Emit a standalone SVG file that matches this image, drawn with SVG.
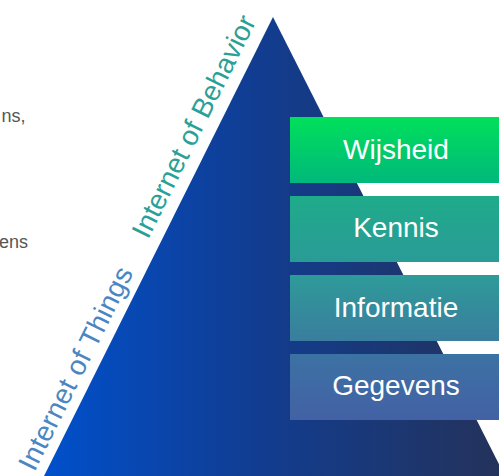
<svg xmlns="http://www.w3.org/2000/svg" width="499" height="476" viewBox="0 0 499 476">
<defs>
<linearGradient id="pyr" gradientUnits="userSpaceOnUse" x1="44" y1="0" x2="504" y2="0">
<stop offset="0" stop-color="#0050cc"/>
<stop offset="0.45" stop-color="#113d92"/>
<stop offset="1" stop-color="#24325a"/>
</linearGradient>
<linearGradient id="g1" x1="0" y1="0" x2="0" y2="1"><stop offset="0" stop-color="#00e05a"/><stop offset="1" stop-color="#00b87c"/></linearGradient>
<linearGradient id="g2" x1="0" y1="0" x2="0" y2="1"><stop offset="0" stop-color="#1fab8a"/><stop offset="1" stop-color="#2a9b97"/></linearGradient>
<linearGradient id="g3" x1="0" y1="0" x2="0" y2="1"><stop offset="0" stop-color="#2e9b99"/><stop offset="1" stop-color="#3a7d9e"/></linearGradient>
<linearGradient id="g4" x1="0" y1="0" x2="0" y2="1"><stop offset="0" stop-color="#3c72a3"/><stop offset="1" stop-color="#4361a5"/></linearGradient>
</defs>
<style>
.lbl{font-family:"Liberation Sans",Arial,sans-serif;font-size:28px;fill:#ffffff;text-anchor:middle}
.side{font-family:"Liberation Sans",Arial,sans-serif;font-size:28px}
.gray{font-family:"Liberation Sans",Arial,sans-serif;font-size:18px;fill:#555555;text-anchor:end}
</style>
<g id="left-text">
<text class="gray" x="25.5" y="121.7">ns,</text>
<text class="gray" x="28" y="248.3">ens</text>
</g>
<g id="pyramid">
<polygon points="273,17 44,476 505,476" fill="url(#pyr)"/>
</g>
<g id="iot">
<text class="side" fill="#4a86c2" textLength="223" lengthAdjust="spacing" transform="translate(34.5,472.5) rotate(-63.6)">Internet of Things</text>
</g>
<g id="iob">
<text class="side" fill="#2aa096" transform="translate(148,240) rotate(-63.6)">Internet of Behavior</text>
</g>
<g id="wijsheid">
<rect x="290" y="117" width="209" height="66" fill="url(#g1)"/>
<text class="lbl" x="396" y="159.3">Wijsheid</text>
</g>
<g id="kennis">
<rect x="290" y="196" width="209" height="66" fill="url(#g2)"/>
<text class="lbl" x="396" y="237.3">Kennis</text>
</g>
<g id="informatie">
<rect x="290" y="275" width="209" height="66" fill="url(#g3)"/>
<text class="lbl" x="396" y="316.7">Informatie</text>
</g>
<g id="gegevens">
<rect x="290" y="354" width="209" height="66" fill="url(#g4)"/>
<text class="lbl" x="396" y="395">Gegevens</text>
</g>
<g id="connectors"></g>
</svg>
